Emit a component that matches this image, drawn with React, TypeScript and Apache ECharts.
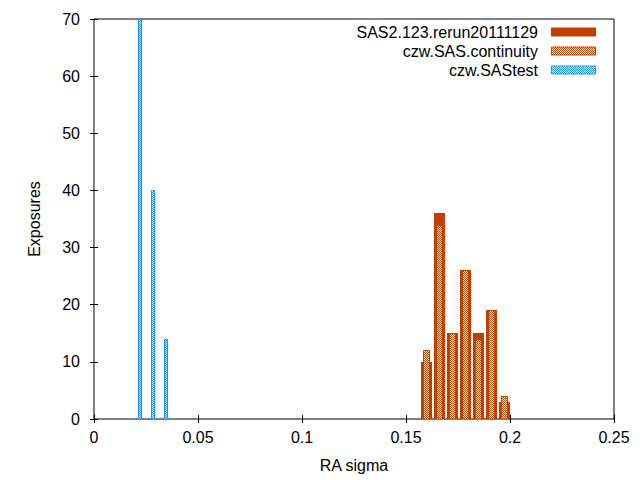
import React, { useEffect, useRef } from "react";
import * as echarts from "echarts";

const seriesNames = ["SAS2.123.rerun20111129", "czw.SAS.continuity", "czw.SAStest"];
const rerunX = [0.1599, 0.1661, 0.1724, 0.1786, 0.1849, 0.1911, 0.1974];
const rerunY = [10, 36, 15, 26, 15, 19, 3];
const continuityX = [0.1599, 0.1661, 0.1724, 0.1786, 0.1849, 0.1911, 0.1974];
const continuityY = [12, 34, 15, 26, 14, 19, 4];
const testX = [0.0223, 0.0286, 0.0348];
const testY = [70, 40, 14];
const xAxisName = "RA sigma";
const yAxisName = "Exposures";

const ORANGE = "#c04000";
const BLUE = "#1e90ff";
const FONT = "Liberation Sans";
const FS = 16;

function makeChecker(color: string) {
  const c = document.createElement("canvas");
  c.width = 2;
  c.height = 2;
  const ctx = c.getContext("2d")!;
  ctx.fillStyle = "#ffffff";
  ctx.fillRect(0, 0, 2, 2);
  ctx.fillStyle = color;
  ctx.fillRect(0, 0, 1, 1);
  ctx.fillRect(1, 1, 1, 1);
  return { image: c.toDataURL(), repeat: "repeat", imageWidth: 2, imageHeight: 2 } as any;
}

function zip(xs: number[], ys: number[]) {
  return xs.map((x, i) => [x, ys[i]]);
}

export default function App() {
  const ref = useRef<HTMLDivElement>(null);
  useEffect(() => {
    if (!ref.current) return;
    const chart = echarts.init(ref.current, undefined, { renderer: "svg" });
    const orangeChecker = makeChecker(ORANGE);
    const blueChecker = makeChecker(BLUE);

    const makeRender = (pxWidth: number, fill: any, stroke: string | null) => (params: any, api: any) => {
      const x = api.value(0);
      const y = api.value(1);
      const top = api.coord([x, y]);
      const base = api.coord([x, 0]);
      const left = Math.round(top[0] - pxWidth / 2);
      const half = stroke ? 0.5 : 0;
      return {
        type: "rect",
        shape: {
          x: left + half,
          y: Math.round(top[1]) + half,
          width: pxWidth - (stroke ? 1 : 0),
          height: Math.round(base[1]) - Math.round(top[1]) - half,
        },
        style: stroke ? { fill, stroke, lineWidth: 1 } : { fill },
      };
    };

    const axisCommon = {
      type: "value",
      axisLine: { show: false },
      splitLine: { show: false },
      axisTick: { inside: true, length: 4, lineStyle: { color: "#000", width: 1 } },
    };

    const legendFills = [
      { fill: ORANGE, stroke: null },
      { fill: orangeChecker, stroke: ORANGE },
      { fill: blueChecker, stroke: BLUE },
    ];
    const legendGraphics: any[] = [];
    seriesNames.forEach((name, i) => {
      const cy = 32 + i * 19;
      legendGraphics.push({
        type: "text",
        x: 538,
        y: cy,
        style: {
          text: name,
          align: "right",
          verticalAlign: "middle",
          fontFamily: FONT,
          fontSize: FS,
          fill: "#000",
        },
      });
      const lf = legendFills[i];
      legendGraphics.push({
        type: "rect",
        shape: lf.stroke
          ? { x: 551.5, y: cy - 4, width: 44, height: 8 }
          : { x: 551, y: cy - 4.5, width: 45, height: 9 },
        style: lf.stroke ? { fill: lf.fill, stroke: lf.stroke, lineWidth: 1 } : { fill: lf.fill },
      });
    });

    chart.setOption({
      animation: false,
      backgroundColor: "#ffffff",
      textStyle: { fontFamily: FONT },
      grid: {
        left: 94,
        right: 26,
        top: 19,
        bottom: 61,
        show: true,
        borderColor: "#000",
        borderWidth: 1,
        backgroundColor: "transparent",
      },
      xAxis: [
        {
          ...axisCommon,
          position: "bottom",
          min: 0,
          max: 0.25,
          interval: 0.05,
          name: xAxisName,
          nameLocation: "middle",
          nameGap: 38,
          nameTextStyle: { fontFamily: FONT, fontSize: FS, color: "#000" },
          axisLabel: { margin: 10, fontFamily: FONT, fontSize: FS, color: "#000" },
        },
        {
          ...axisCommon,
          position: "top",
          min: 0,
          max: 0.25,
          interval: 0.05,
          axisLabel: { show: false },
        },
      ],
      yAxis: [
        {
          ...axisCommon,
          position: "left",
          min: 0,
          max: 70,
          interval: 10,
          name: yAxisName,
          nameLocation: "middle",
          nameGap: 52,
          nameTextStyle: { fontFamily: FONT, fontSize: FS, color: "#000" },
          axisLabel: { margin: 14, fontFamily: FONT, fontSize: FS, color: "#000" },
        },
        {
          ...axisCommon,
          position: "right",
          min: 0,
          max: 70,
          interval: 10,
          axisLabel: { show: false },
        },
      ],
      series: [
        {
          name: seriesNames[0],
          type: "custom",
          xAxisIndex: 0,
          yAxisIndex: 0,
          clip: true,
          renderItem: makeRender(11, ORANGE, null),
          data: zip(rerunX, rerunY),
          z: 2,
        },
        {
          name: seriesNames[1],
          type: "custom",
          xAxisIndex: 0,
          yAxisIndex: 0,
          clip: true,
          renderItem: makeRender(7, orangeChecker, ORANGE),
          data: zip(continuityX, continuityY),
          z: 3,
        },
        {
          name: seriesNames[2],
          type: "custom",
          xAxisIndex: 0,
          yAxisIndex: 0,
          clip: true,
          renderItem: makeRender(4, blueChecker, BLUE),
          data: zip(testX, testY),
          z: 3,
        },
      ],
      graphic: legendGraphics,
    });
    return () => chart.dispose();
  }, []);
  return (
    <div
      ref={ref}
      style={{ position: "absolute", left: 0, top: 0, width: 640, height: 480, background: "#fff" }}
    />
  );
}
